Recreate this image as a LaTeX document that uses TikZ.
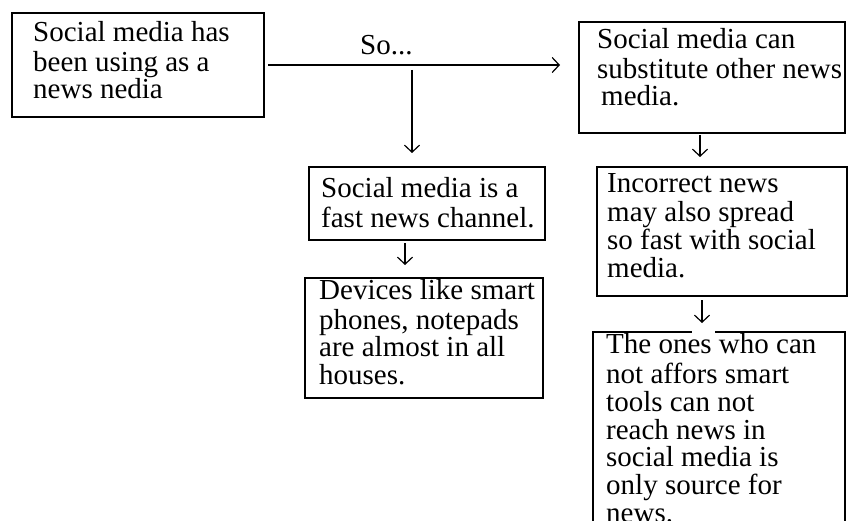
\documentclass[tikz,border=0pt]{standalone}
\usepackage{fontspec}
\setmainfont{Liberation Serif}
\usetikzlibrary{arrows.meta}
\begin{document}
\begin{tikzpicture}[x=1pt,y=-1pt,
  box/.style={draw, line width=1.4pt, anchor=north west, inner sep=0pt, outer sep=0pt},
  txt/.style={anchor=north west, inner sep=0pt, align=left, font=\fontsize{29}{27.8}\selectfont},
  arr/.style={-{Straight Barb[length=7pt,width=15pt]}, line width=1.2pt}]
\useasboundingbox (0,0) rectangle (858,521);
\clip (0,0) rectangle (858,521);
% boxes
\node[box, minimum width=252pt, minimum height=104pt] (b1) at (12,13) {};
\node[box, minimum width=266pt, minimum height=111pt] (b2) at (579,22) {};
\node[box, minimum width=236pt, minimum height=73pt] (b3) at (309,167) {};
\node[box, minimum width=238pt, minimum height=120pt] (b4) at (305,278) {};
\node[box, minimum width=250pt, minimum height=129pt] (b5) at (597,167) {};
\node[box, minimum width=252pt, minimum height=260pt] (b6) at (593,332) {};
% texts
\node[txt] (t1) at (33,21.4) {\strut Social media has\\been using as a\\news nedia};
\node[txt] (t2) at (597,28.4) {\strut Social media can\\substitute other news\\\hspace*{4pt}media.};
\node[txt] (t3) at (321,177.4) {\strut Social media is a\\fast news channel.};
\node[txt] (t4) at (319,279.4) {\strut Devices like smart\\phones, notepads\\are almost in all\\houses.};
\node[txt] (t5) at (607,172.4) {\strut Incorrect news\\may also spread\\so fast with social\\media.};
\node[txt] (t6) at (606,333.4) {\strut The ones who can\\not affors smart\\tools can not\\reach news in\\social media is\\only source for\\news.};
\node[anchor=base west, inner sep=0pt, font=\fontsize{29}{27.8}\selectfont] (so) at (360,55) {So...};
% connectors
\coordinate (j) at (412,65);
\draw[arr, shorten <=4pt, shorten >=19pt] (b1.east) -- (b2.west |- b1.east);
\draw[arr, shorten <=5pt, shorten >=14pt] (j) -- (j |- b3.north);
\draw[arr, shorten <=3pt, shorten >=13pt] (b3.south -| 405,0) -- (b4.north -| 405,0);
\draw[arr, shorten <=2pt, shorten >=10pt] (b2.south -| 700,0) -- (b5.north -| 700,0);
\draw[arr, shorten <=4pt, shorten >=9pt] (b5.south -| 702,0) -- (b6.north -| 702,0);
\draw[white, line width=3pt] (692,332) -- (715,332);
\end{tikzpicture}
\end{document}
